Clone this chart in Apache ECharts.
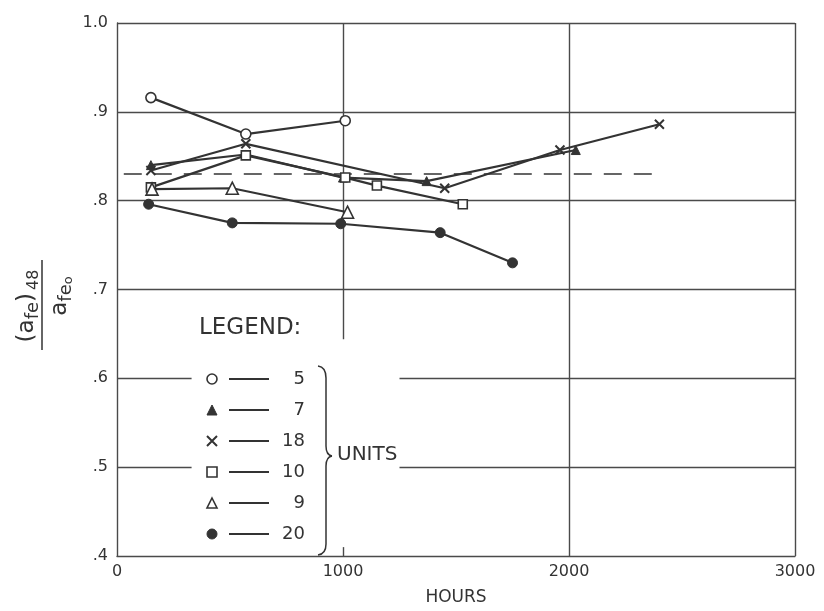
<!DOCTYPE html>
<html>
<head>
<meta charset="utf-8">
<script src="https://cdn.jsdelivr.net/npm/echarts@6/dist/echarts.min.js"></script>
<style>
html,body{margin:0;padding:0;background:#fff;}
#chart{width:824px;height:611px;}
</style>
</head>
<body>
<div id="chart"></div>
<script>
// ---- data ----
const xTicks = [0, 1000, 2000, 3000];
const yTicks = ['.4', '.5', '.6', '.7', '.8', '.9', '1.0'];
const legendUnits = ['5', '7', '18', '10', '9', '20'];

const units5  = [[150, 0.916], [570, 0.875], [1010, 0.890]];
const units7  = [[150, 0.840], [570, 0.852], [1000, 0.826], [1370, 0.822], [2030, 0.857]];
const units18 = [[150, 0.834], [570, 0.864], [1450, 0.814], [1960, 0.857], [2400, 0.886]];
const units10 = [[150, 0.815], [570, 0.851], [1010, 0.826], [1150, 0.817], [1530, 0.796]];
const units9  = [[155, 0.813], [510, 0.814], [1020, 0.787]];
const units20 = [[140, 0.796], [510, 0.775], [990, 0.774], [1430, 0.764], [1750, 0.730]];

const referenceLevel = 0.830;
const referenceSpan = [30, 2400];

// ---- styling ----
const INK = '#333';
const GRID = '#4a4a4a';
const FONT = 'DejaVu Sans';
const xSym = 'path://M0,0 L10,10 M10,0 L0,10';

function seg(a, b) { return [{ coord: a }, { coord: b }]; }

const chart = echarts.init(document.getElementById('chart'), null, { renderer: 'canvas' });

function lineSeries(name, data, symbol, size, filled) {
  return {
    name: name,
    type: 'line',
    data: data,
    symbol: symbol,
    symbolSize: size,
    showSymbol: true,
    z: 5,
    lineStyle: { color: INK, width: 2.2 },
    itemStyle: filled
      ? { color: INK, borderColor: INK, borderWidth: 1 }
      : { color: '#fff', borderColor: INK, borderWidth: 1.6 },
    emphasis: { disabled: true }
  };
}

const s5 = lineSeries('5', units5, 'circle', 10, false);
const s7 = lineSeries('7', units7, 'triangle', 9, true);
const s18 = lineSeries('18', units18, xSym, 9, false);
s18.itemStyle = { color: INK, borderColor: INK, borderWidth: 2 };
const s10 = lineSeries('10', units10, 'rect', 9, false);
const s9 = lineSeries('9', units9, 'triangle', 12, false);
const s20 = lineSeries('20', units20, 'circle', 10, true);

const gridSeries = {
  name: 'grid',
  type: 'line',
  data: [],
  silent: true,
  z: 1,
  markLine: {
    silent: true,
    symbol: ['none', 'none'],
    label: { show: false },
    emphasis: { disabled: true },
    animation: false,
    lineStyle: { color: GRID, width: 1.4, type: 'solid' },
    data: [
      seg([0, 1.0], [3000, 1.0]),
      seg([0, 0.9], [3000, 0.9]),
      seg([0, 0.8], [3000, 0.8]),
      seg([0, 0.7], [3000, 0.7]),
      seg([0, 0.6], [330, 0.6]),
      seg([1250, 0.6], [3000, 0.6]),
      seg([0, 0.5], [330, 0.5]),
      seg([1250, 0.5], [3000, 0.5]),
      seg([1000, 1.0], [1000, 0.644]),
      seg([1000, 0.4], [1000, 0.41]),
      seg([2000, 1.0], [2000, 0.4]),
      seg([3000, 1.0], [3000, 0.4])
    ]
  }
};

const dashSeries = {
  name: 'ref',
  type: 'line',
  data: [],
  silent: true,
  z: 2,
  markLine: {
    silent: true,
    symbol: ['none', 'none'],
    label: { show: false },
    emphasis: { disabled: true },
    animation: false,
    lineStyle: { color: INK, width: 1.6, type: [18, 12] },
    data: [seg([referenceSpan[0], referenceLevel], [referenceSpan[1], referenceLevel])]
  }
};

const legendIcons = {
  '5': 'circle', '7': 'triangle', '18': xSym, '10': 'rect', '9': 'triangle', '20': 'circle'
};
const legendFilled = { '5': false, '7': true, '18': true, '10': false, '9': false, '20': true };

const braceStyle = { fill: 'none', stroke: INK, lineWidth: 1.5 };
const brace = [
  { type: 'bezierCurve', silent: true, shape: { x1: 318, y1: 366, x2: 326, y2: 378, cpx1: 326, cpy1: 367 }, style: braceStyle },
  { type: 'line', silent: true, shape: { x1: 326, y1: 378, x2: 326, y2: 446 }, style: braceStyle },
  { type: 'bezierCurve', silent: true, shape: { x1: 326, y1: 446, x2: 332, y2: 456, cpx1: 326, cpy1: 455 }, style: braceStyle },
  { type: 'bezierCurve', silent: true, shape: { x1: 332, y1: 456, x2: 326, y2: 466, cpx1: 326, cpy1: 457 }, style: braceStyle },
  { type: 'line', silent: true, shape: { x1: 326, y1: 466, x2: 326, y2: 544 }, style: braceStyle },
  { type: 'bezierCurve', silent: true, shape: { x1: 326, y1: 544, x2: 318, y2: 555, cpx1: 326, cpy1: 554 }, style: braceStyle }
];

const option = {
  animation: false,
  backgroundColor: '#fff',
  textStyle: { fontFamily: FONT },
  grid: { left: 117, right: 29, top: 23, bottom: 48, containLabel: false },
  xAxis: {
    type: 'value',
    min: xTicks[0],
    max: xTicks[xTicks.length - 1],
    interval: 1000,
    name: 'HOURS',
    nameLocation: 'middle',
    nameGap: 33,
    nameTextStyle: { fontSize: 17, color: INK, fontFamily: FONT },
    axisLine: { show: true, lineStyle: { color: GRID, width: 1.4 } },
    axisTick: { show: false },
    splitLine: { show: false },
    axisLabel: {
      fontSize: 16, color: INK, margin: 8, fontFamily: FONT,
      formatter: function (v) { return String(v); }
    }
  },
  yAxis: {
    type: 'value',
    min: 0.4,
    max: 1.0,
    interval: 0.1,
    axisLine: { show: true, lineStyle: { color: GRID, width: 1.4 } },
    axisTick: { show: false },
    splitLine: { show: false },
    axisLabel: {
      fontSize: 16, color: INK, margin: 9, fontFamily: FONT,
      formatter: function (v) { return yTicks[Math.round(v * 10) - 4]; }
    }
  },
  legend: {
    orient: 'vertical',
    left: 206,
    top: 370,
    padding: 0,
    itemWidth: 10,
    itemHeight: 10,
    itemGap: 13,
    selectedMode: false,
    data: legendUnits.map(function (u) {
      return {
        name: u,
        icon: legendIcons[u],
        itemStyle: legendFilled[u]
          ? { color: INK, borderColor: INK, borderWidth: u === '18' ? 2 : 1 }
          : { color: '#fff', borderColor: INK, borderWidth: 1.6 }
      };
    }),
    formatter: function (name) { return '{s|}{l|}{n|' + name + '}'; },
    textStyle: {
      color: INK,
      fontFamily: FONT,
      rich: {
        s: { width: 7, height: 2 },
        l: { width: 40, height: 2, backgroundColor: INK },
        n: { width: 36, align: 'right', fontSize: 18, lineHeight: 20, color: INK, fontFamily: FONT }
      }
    }
  },
  graphic: brace.concat([
    {
      type: 'text', x: 199, y: 317, silent: true,
      style: { text: 'LEGEND:', fontSize: 23, fill: INK, fontFamily: FONT }
    },
    {
      type: 'text', x: 337, y: 445, silent: true,
      style: { text: 'UNITS', fontSize: 20, fill: INK, fontFamily: FONT }
    },
    {
      type: 'text', x: 27, y: 306, rotation: Math.PI / 2, silent: true,
      style: {
        text: '{a|(a}{f|fe}{a|)}{t|48}',
        align: 'center', verticalAlign: 'middle',
        fill: INK, fontFamily: FONT,
        rich: {
          a: { fontSize: 23, lineHeight: 26, fontFamily: FONT, fill: INK },
          f: { fontSize: 18, lineHeight: 26, verticalAlign: 'bottom', fontFamily: FONT, fill: INK },
          t: { fontSize: 16, lineHeight: 30, verticalAlign: 'bottom', padding: [0, 0, 0, 3], fontFamily: FONT, fill: INK }
        }
      }
    },
    {
      type: 'line', silent: true,
      shape: { x1: 42, y1: 260, x2: 42, y2: 350 },
      style: { stroke: INK, lineWidth: 1.5 }
    },
    {
      type: 'text', x: 60, y: 296, rotation: Math.PI / 2, silent: true,
      style: {
        text: '{a|a}{f|fe}{o|o}',
        align: 'center', verticalAlign: 'middle',
        fill: INK, fontFamily: FONT,
        rich: {
          a: { fontSize: 23, lineHeight: 26, fontFamily: FONT, fill: INK },
          f: { fontSize: 18, lineHeight: 26, verticalAlign: 'bottom', fontFamily: FONT, fill: INK },
          o: { fontSize: 13, lineHeight: 30, verticalAlign: 'bottom', fontFamily: FONT, fill: INK }
        }
      }
    }
  ]),
  series: [gridSeries, dashSeries, s5, s7, s18, s10, s9, s20]
};

chart.setOption(option);
</script>
</body>
</html>
